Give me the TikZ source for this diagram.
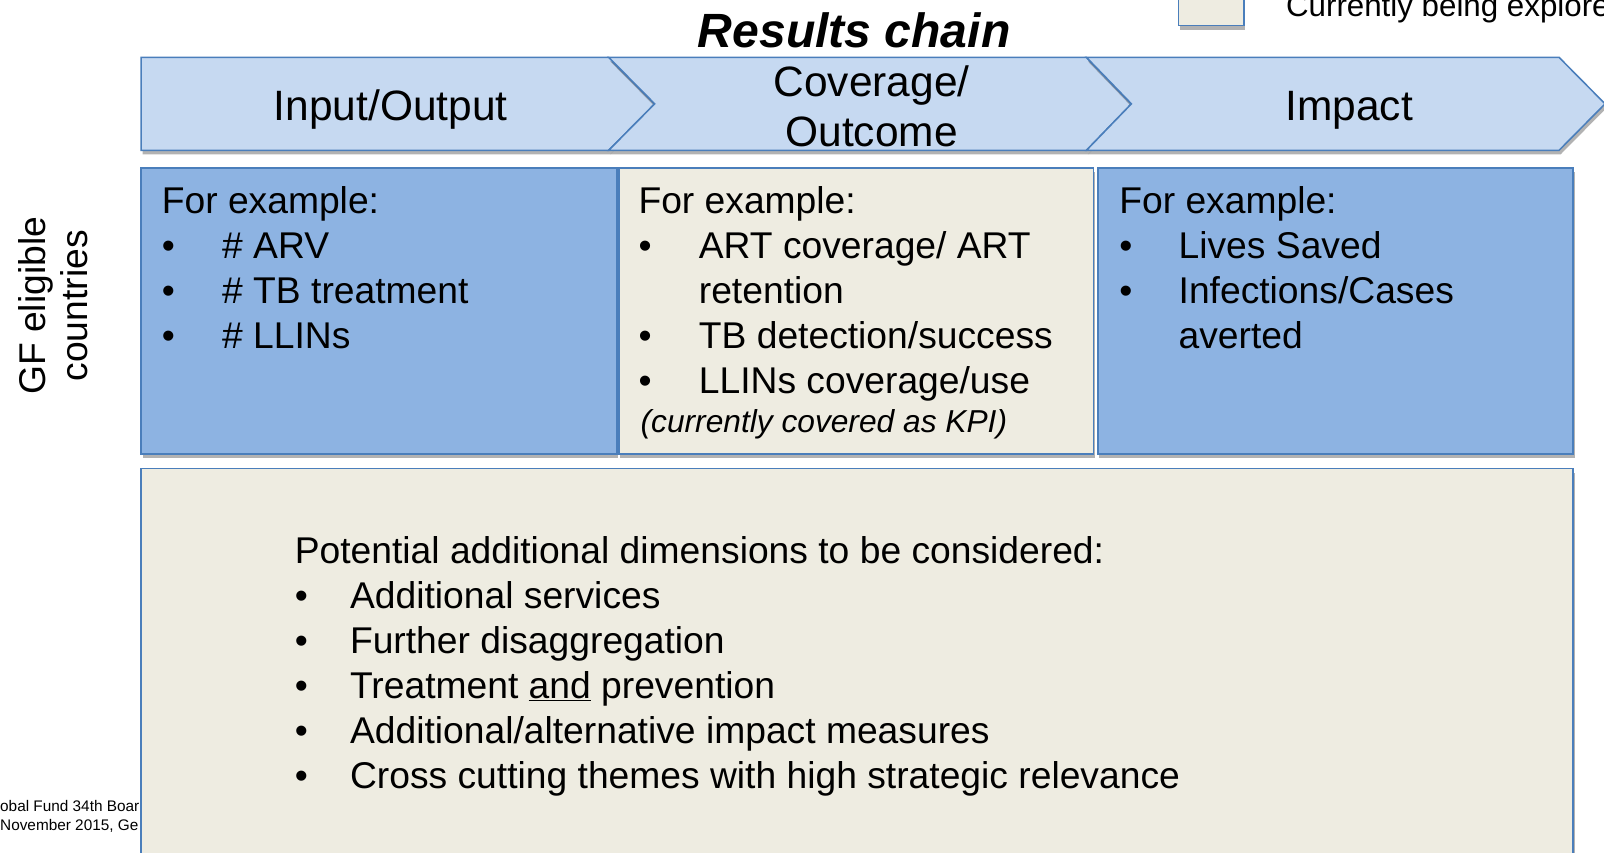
\documentclass[tikz,border=0pt]{standalone}
\usepackage{fontspec}
\setmainfont{Liberation Sans}
\usetikzlibrary{shadows}
\definecolor{chevfill}{HTML}{C6D9F1}
\definecolor{edgeblue}{HTML}{4A7EBB}
\definecolor{midblue}{HTML}{8DB3E2}
\definecolor{beige}{HTML}{EEECE1}
\tikzset{
  softshade/.style={drop shadow={shadow xshift=1.5pt,shadow yshift=-4pt,fill=black,opacity=0.3}},
  chev/.style={fill=chevfill,draw=edgeblue,line width=1.5pt,line join=miter,softshade},
  panel/.style={draw=edgeblue,line width=1.8pt,softshade},
  body/.style={font=\fontsize{36.4}{44}\selectfont,inner sep=0pt},
  head/.style={font=\fontsize{41.5}{48}\selectfont,inner sep=0pt},
  foot/.style={font=\fontsize{15}{19}\selectfont,inner sep=0pt},
}
\newcommand\bul[1]{\makebox[#1][l]{•}}
\begin{document}
\begin{tikzpicture}[x=1pt,y=-1pt]
\useasboundingbox (0,0) rectangle (1568,833);
\fill[white] (0,0) rectangle (1568,833);

% footer text (partly hidden behind the big box)
\node[foot,anchor=base west] (f1) at (0,793) {obal Fund 34th Boar};
\node[foot,anchor=base west] (f2) at (0,812) {November 2015, Ge};

% legend
\path[panel,fill=beige,line width=1.5pt] (1152,-10) rectangle (1216,25);
\node[inner sep=0pt,anchor=base west,font=\fontsize{30.6}{36}\selectfont] (leg) at (1257,16) {Currently being explored};

% title
\node[inner sep=0pt,anchor=base,font=\fontsize{47}{56}\selectfont\bfseries\itshape] (title) at (835,46) {Results chain};

% chevrons
\path[chev] (138,56) -- (595,56) -- (640,101.5) -- (595,147) -- (138,147) -- cycle;
\path[chev] (595,56) -- (1062,56) -- (1106,101.5) -- (1062,147) -- (595,147) -- (640,101.5) -- cycle;
\path[chev] (1062,56) -- (1524,56) -- (1569,101.5) -- (1524,147) -- (1062,147) -- (1106,101.5) -- cycle;
\node[head,anchor=base] (h1) at (382,118) {Input/Output};
\node[head,anchor=base] (h2a) at (852,94) {Coverage/};
\node[head,anchor=base] (h2b) at (852,143) {Outcome};
\node[head,anchor=base] (h3) at (1319,118) {Impact};

% side label
\node[body,rotate=90,align=center,font=\fontsize{36.4}{41}\selectfont] (gf) at (52,299) {GF eligible\\countries};

% panels
\path[panel,fill=midblue] (138,164) rectangle (603,444);
\path[panel,fill=beige] (605,164) rectangle (1069,444);
\path[panel,fill=midblue] (1073,164) rectangle (1538,444);
\path[panel,fill=beige] (138,458) rectangle (1538,870);

% panel 1
\node[body,anchor=base west] (a0) at (158,209) {For example:};
\node[body,anchor=base west] (a1) at (158,253) {\bul{59pt}\# ARV};
\node[body,anchor=base west] (a2) at (158,297) {\bul{59pt}\# TB treatment};
\node[body,anchor=base west] (a3) at (158,341) {\bul{59pt}\# LLINs};

% panel 2
\node[body,anchor=base west] (b0) at (624,209) {For example:};
\node[body,anchor=base west] (b1) at (624,253) {\bul{59pt}ART coverage/ ART};
\node[body,anchor=base west] (b2) at (683,297) {retention};
\node[body,anchor=base west] (b3) at (624,341) {\bul{59pt}TB detection/success};
\node[body,anchor=base west] (b4) at (624,385) {\bul{59pt}LLINs coverage/use};
\node[inner sep=0pt,anchor=base west,font=\fontsize{31}{36}\selectfont\itshape] (b5) at (626,423) {(currently covered as KPI)};

% panel 3
\node[body,anchor=base west] (c0) at (1094,209) {For example:};
\node[body,anchor=base west] (c1) at (1094,253) {\bul{58pt}Lives Saved};
\node[body,anchor=base west] (c2) at (1094,297) {\bul{58pt}Infections/Cases};
\node[body,anchor=base west] (c3) at (1152,341) {averted};

% big panel
\node[body,anchor=base west] (d0) at (288,551) {Potential additional dimensions to be considered:};
\node[body,anchor=base west] (d1) at (288,595) {\bul{54pt}Additional services};
\node[body,anchor=base west] (d2) at (288,639) {\bul{54pt}Further disaggregation};
\node[body,anchor=base west] (d3) at (288,683) {\bul{54pt}Treatment \underline{and} prevention};
\node[body,anchor=base west] (d4) at (288,727) {\bul{54pt}Additional/alternative impact measures};
\node[body,anchor=base west] (d5) at (288,771) {\bul{54pt}Cross cutting themes with high strategic relevance};
\end{tikzpicture}
\end{document}
